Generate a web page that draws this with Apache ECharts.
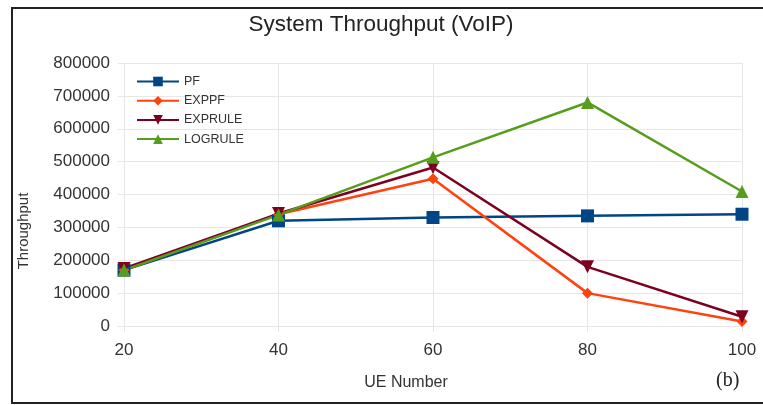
<!DOCTYPE html>
<html>
<head>
<meta charset="utf-8">
<script src="https://cdn.jsdelivr.net/npm/echarts@6/dist/echarts.min.js"></script>
<style>
  html, body { margin: 0; padding: 0; background: #fff; }
  #chart { width: 763px; height: 405px; }
</style>
</head>
<body>
<div id="chart"></div>
<script>
// Number of UEs on the x axis
const ueNumbers = [20, 40, 60, 80, 100];

// Throughput per scheduler
const pf      = [170000, 320000, 330000, 335000, 340000];
const exppf   = [170000, 340000, 448000, 100000, 14000];
const exprule = [175000, 342000, 482000, 180000, 28000];
const logrule = [170000, 338000, 513000, 680000, 409000];

const seriesNames = ['PF', 'EXPPF', 'EXPRULE', 'LOGRULE'];

const font = 'Liberation Sans, Arial, sans-serif';
const pair = vals => ueNumbers.map((x, i) => [x, vals[i]]);

const chart = echarts.init(document.getElementById('chart'));

function line(name, vals, color, symbol, size) {
  return {
    name: name,
    type: 'line',
    data: pair(vals),
    symbol: symbol,
    symbolSize: size,
    lineStyle: { color: color, width: 2.5 },
    itemStyle: { color: color },
    emphasis: { disabled: true },
    animation: false
  };
}

chart.setOption({
  animation: false,
  backgroundColor: '#fff',
  title: {
    text: 'System Throughput (VoIP)',
    left: 376,
    textAlign: 'center',
    top: 8,
    textStyle: { fontFamily: font, fontSize: 22.5, fontWeight: 'normal', color: '#222' }
  },
  graphic: [{
    type: 'rect',
    shape: { x: 12, y: 8, width: 760, height: 395 },
    style: { fill: 'none', stroke: '#222', lineWidth: 2 },
    silent: true
  }, {
    // axis titles
    type: 'text',
    x: 406,
    y: 383,
    style: {
      text: 'UE Number', font: '16px "Liberation Sans", Arial, sans-serif',
      fill: '#333', align: 'center', verticalAlign: 'middle'
    }
  }, {
    type: 'text',
    x: 24,
    y: 231,
    rotation: Math.PI / 2,
    style: {
      text: 'Throughput', font: '15px "Liberation Sans", Arial, sans-serif',
      fill: '#333', align: 'center', verticalAlign: 'middle'
    }
  }, {
    type: 'text',
    left: 716,
    top: 371,
    style: { text: '(b)', font: '20px "Liberation Serif", serif', fill: '#222' }
  }],
  legend: {
    orient: 'vertical',
    left: 131,
    top: 70,
    itemWidth: 42,
    itemHeight: 12,
    itemGap: 6.2,
    textStyle: { fontFamily: font, fontSize: 12.5, color: '#333' },
    data: seriesNames
  },
  grid: { left: 124, right: 21, top: 63, bottom: 79 },
  xAxis: {
    type: 'value',
    min: 20,
    max: 100,
    interval: 20,
    axisLine: { show: false },
    axisTick: { show: true, length: 6, lineStyle: { color: '#e6e6e6' } },
    axisLabel: { fontFamily: font, fontSize: 17, color: '#333', margin: 16 },
    splitLine: { show: true, lineStyle: { color: '#e6e6e6' } }
  },
  yAxis: {
    type: 'value',
    min: 0,
    max: 800000,
    interval: 100000,
    axisLine: { show: false },
    axisTick: { show: true, length: 6, lineStyle: { color: '#e6e6e6' } },
    axisLabel: {
      fontFamily: font, fontSize: 17, color: '#333', margin: 14,
      formatter: v => String(v)
    },
    splitLine: { show: true, lineStyle: { color: '#e6e6e6' } }
  },
  series: [
    line('PF', pf, '#004586', 'rect', 13),
    line('EXPPF', exppf, '#ff420e', 'diamond', 11),
    line('EXPRULE', exprule, '#7e0021', 'path://M0,0 L10,0 L5,9 Z', 13),
    line('LOGRULE', logrule, '#579d1c', 'triangle', 13)
  ]
});
</script>
</body>
</html>
